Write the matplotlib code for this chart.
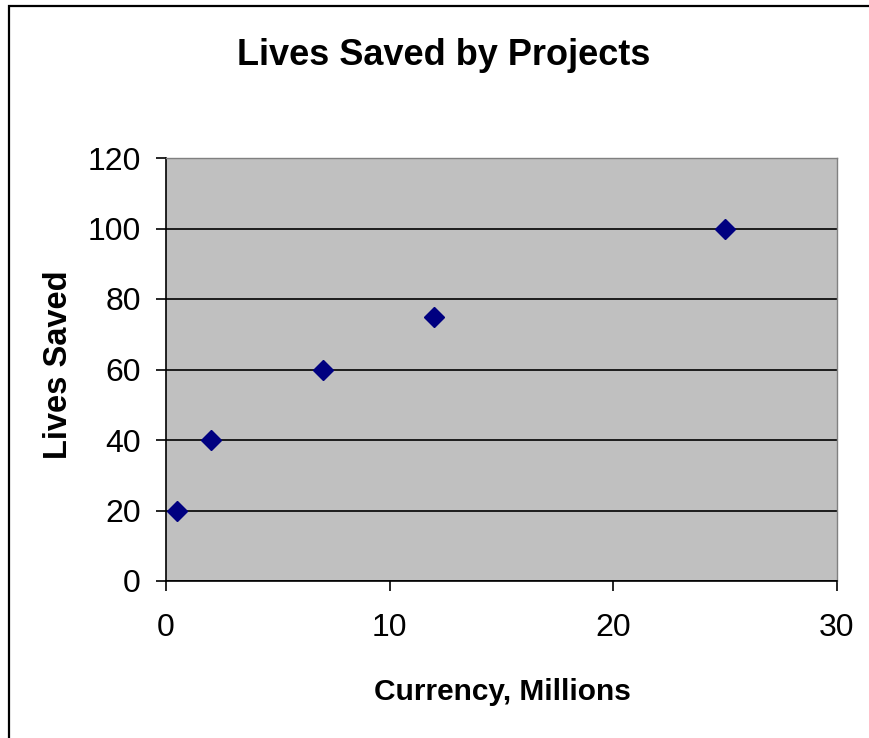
import matplotlib
matplotlib.use("Agg")
import matplotlib.pyplot as plt
from matplotlib.patches import Rectangle

plt.rcParams['font.family'] = ['Liberation Sans', 'DejaVu Sans']

cost_millions = [0.5, 2, 7, 12, 25]
lives_saved = [20, 40, 60, 75, 100]
x_ticks = [0, 10, 20, 30]
y_ticks = [0, 20, 40, 60, 80, 100, 120]

W, H = 869, 738
fig = plt.figure(figsize=(W / 100, H / 100), dpi=100)
fig.patch.set_facecolor('white')

# outer frame (right and bottom edges lie outside the image)
fig.patches.append(Rectangle((9 / W, -0.5), 1.5, 1.5 - 6 / H, transform=fig.transFigure,
                             fill=False, edgecolor='black', linewidth=1.6, zorder=0))

ax = fig.add_axes([166 / W, 1 - 581 / H, (837 - 166) / W, (581 - 158) / H])
ax.set_facecolor('#c0c0c0')
ax.set_xlim(0, 30)
ax.set_ylim(0, 120)
ax.set_xticks(x_ticks)
ax.set_yticks(y_ticks)
ax.yaxis.grid(True, color='black', linewidth=1.2)
ax.set_axisbelow(True)
for s in ['top', 'right']:
    ax.spines[s].set_color('#808080')
    ax.spines[s].set_linewidth(1)
for s in ['left', 'bottom']:
    ax.spines[s].set_color('black')
    ax.spines[s].set_linewidth(1.2)
ax.tick_params(axis='both', direction='out', length=7, width=1.2, labelsize=23, colors='black')
ax.tick_params(axis='x', pad=16)
ax.tick_params(axis='y', pad=11)

ax.plot(cost_millions, lives_saved, linestyle='none', marker='D', markersize=10,
        color='#000080', clip_on=False, zorder=3)

fig.text(502 / W, 1 - 700 / H, 'Currency, Millions', fontsize=21.5, fontweight='bold',
         ha='center', va='baseline')
fig.text(59 / W, 1 - 364.5 / H, 'Lives Saved', fontsize=23.5, fontweight='bold',
         ha='center', va='center', rotation=90)
fig.text(444 / W, 1 - 65 / H, 'Lives Saved by Projects', fontsize=26, fontweight='bold',
         ha='center', va='baseline')

fig.savefig('out.png', dpi=100)
